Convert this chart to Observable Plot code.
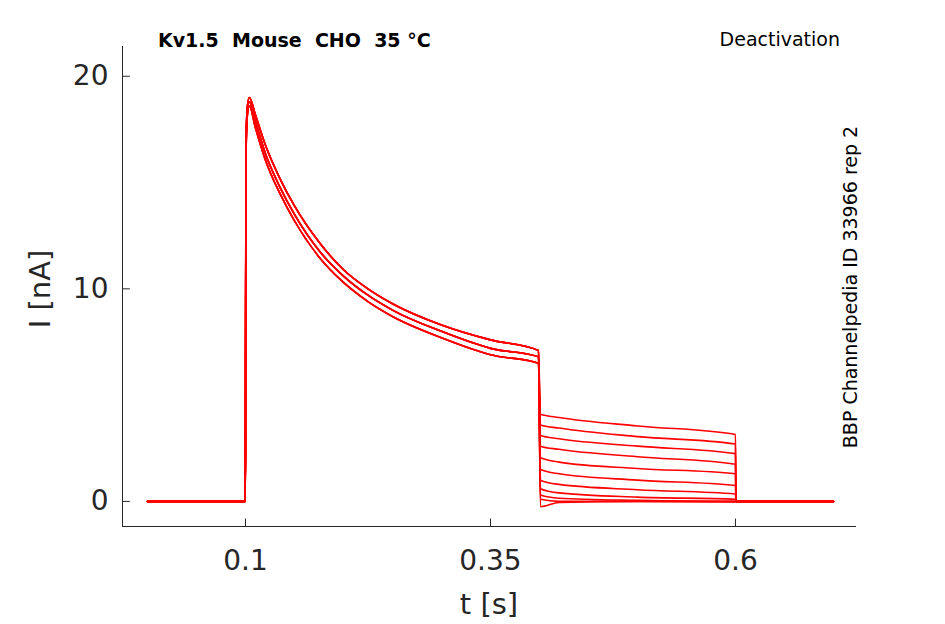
<!DOCTYPE html>
<html><head><meta charset="utf-8">
<script src="https://cdn.jsdelivr.net/npm/d3@7"></script>
<script src="https://cdn.jsdelivr.net/npm/@observablehq/plot@0.6"></script>
<style>body{margin:0;background:#fff;font-family:"DejaVu Sans",sans-serif}</style>
</head><body><div id="chart"></div>
<script>
// activation phase (shared time base), three slight variants
const actT = [0, 0.0995, 0.1, 0.1005, 0.102, 0.104, 0.11, 0.12, 0.135, 0.15, 0.175, 0.2, 0.225, 0.25, 0.3, 0.35, 0.399];
const actA = [0, 0, 3, 16.8, 18.6, 19.0, 18.2, 16.8, 15.2, 13.9, 12.2, 10.9, 10.0, 9.3, 8.3, 7.6, 7.1];
const actB = [0, 0, 2.5, 16.5, 18.4, 18.8, 17.9, 16.4, 14.8, 13.5, 11.8, 10.6, 9.7, 9.0, 8.0, 7.2, 6.8];
const actC = [0, 0, 2, 16.2, 18.2, 18.6, 17.6, 16.1, 14.5, 13.2, 11.5, 10.3, 9.4, 8.7, 7.7, 6.9, 6.5];
// deactivation tails (value at start 0.401, at 0.42, 0.5 and end 0.6)
const tailStart = [4.1, 3.6, 3.1, 2.6, 2.05, 1.5, 1.0, 0.6, 0.3, 0.1, -0.25];
const tail42    = [3.95, 3.45, 2.95, 2.45, 1.85, 1.3, 0.8, 0.4, 0.15, 0.0, -0.05];
const tail50    = [3.55, 3.05, 2.6, 2.1, 1.55, 1.0, 0.55, 0.2, 0.05, 0.0, 0.0];
const tailEnd   = [3.15, 2.7, 2.25, 1.75, 1.3, 0.75, 0.35, 0.1, 0.0, -0.02, 0.0];
const tailT = [0.401, 0.42, 0.5, 0.6];
const endT = [0.6005, 0.7];
const xTicks = [0.1, 0.35, 0.6];
const yTicks = [0, 10, 20];

const acts = [actA, actB, actC];
const data = [];
tailStart.forEach((s, k) => {
  const act = acts[k % 3];
  actT.forEach((t, i) => data.push({k, t, v: act[i]}));
  const tv = [tailStart[k], tail42[k], tail50[k], tailEnd[k]];
  tailT.forEach((t, i) => data.push({k, t, v: tv[i]}));
  endT.forEach(t => data.push({k, t, v: 0}));
});

const xDom = [-0.0255, 0.7235], yDom = [-1.18, 21.4];
const plot = Plot.plot({
  width: 945, height: 624,
  marginLeft: 122, marginRight: 89, marginTop: 46, marginBottom: 98,
  style: {fontFamily: "DejaVu Sans, sans-serif", color: "#262626", background: "#fff"},
  x: {domain: xDom, ticks: xTicks, tickFormat: d => String(d), label: null},
  y: {domain: yDom, ticks: yTicks, label: null},
  marks: [
    Plot.line(data, {x: "t", y: "v", z: "k", stroke: "#ff0000", strokeWidth: 1.6, curve: "monotone-x"}),
    Plot.axisX({ticks: xTicks, tickFormat: d => String(d), tickSize: 0, tickPadding: 24, fontSize: 28, label: null}),
    Plot.axisY({ticks: yTicks, tickSize: 0, tickPadding: 14, fontSize: 28, label: null}),
    Plot.ruleX(xTicks, {x: d => d, y1: yDom[0], y2: yDom[0] + 0.35, stroke: "#262626"}),
    Plot.ruleY(yTicks, {y: d => d, x1: xDom[0], x2: xDom[0] + 0.008, stroke: "#262626"}),
    Plot.ruleX([xDom[0]], {stroke: "#262626"}),
    Plot.ruleY([yDom[0]], {stroke: "#262626"})
  ]
});
const svg = d3.select(plot);
const add = (x, y, size, txt, opts = {}) => svg.append("text").attr("x", x).attr("y", y)
  .attr("font-size", size).attr("text-anchor", opts.anchor || "start").attr("font-weight", opts.bold ? "bold" : "normal")
  .attr("fill", opts.fill || "#000").attr("transform", opts.tr || null).text(txt);
add(158, 47, 19, "Kv1.5  Mouse  CHO  35 °C", {bold: true});
add(840, 46, 19, "Deactivation", {anchor: "end"});
add(0, 0, 19, "BBP Channelpedia ID 33966 rep 2", {anchor: "middle", tr: "translate(857,287) rotate(-90)"});
add(489, 614, 29, "t [s]", {anchor: "middle", fill: "#262626"});
add(0, 0, 29, "I [nA]", {anchor: "middle", fill: "#262626", tr: "translate(50,289) rotate(-90)"});
document.getElementById("chart").appendChild(plot);
</script></body></html>
